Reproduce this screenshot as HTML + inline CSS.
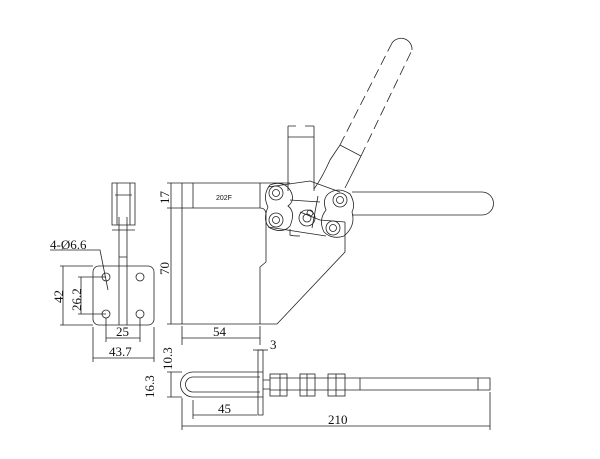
<!DOCTYPE html>
<html><head><meta charset="utf-8"><style>
html,body{margin:0;padding:0;background:#fff;width:600px;height:459px;overflow:hidden}
svg text{font-family:"Liberation Serif",serif;font-size:13px;fill:#111}
</style></head><body>
<svg width="600" height="459" viewBox="0 0 600 459" fill="none" stroke="#222" stroke-width="0.8">
<!-- MAIN VIEW -->
<path d="M182 183 H290 M182 183 V324 H277 L345 252 V222 M260 324 V267 L266 262 V215 Q266 208 260 208 H182 M193 183 V208 M260 183 V208"/>
<text x="216" y="200" stroke="none" style="font-family:'Liberation Sans',sans-serif;font-size:7px">202F</text>
<path d="M288 126 V191 M314 126 V191 M288 137 H314 M288 126 H296 M305 126 H314"/>
<path d="M268 187 L310 181 L340 192 M268 227 L300 232 L326 236 M290 200 L320 202 M300 212 L320 220 L345 222 M290 229 V235 Q292 236 300 236 M318 196 L312 228"/>
<path d="M270 185 Q283 180 290 190 Q296 200 288 206 Q296 212 290 226 Q283 234 270 228 Q262 221 268 207 Q262 195 270 185 Z"/>
<path d="M328 194 Q338 186 350 194 Q356 204 352 212 Q356 226 344 236 Q332 240 324 232 Q318 220 326 210 Q322 200 328 194 Z"/>
<g>
<circle cx="276" cy="193" r="7"/><circle cx="276" cy="193" r="3.5"/>
<circle cx="276" cy="220" r="7"/><circle cx="276" cy="220" r="3.5"/>
<circle cx="307" cy="218" r="8"/><circle cx="307" cy="218" r="4"/><circle cx="310" cy="213" r="3"/>
<circle cx="340" cy="200" r="7"/><circle cx="340" cy="200" r="3.5"/>
<circle cx="333" cy="228" r="7"/><circle cx="333" cy="228" r="3.5"/>
</g>
<path d="M352 192 H482 A11.5 11.5 0 0 1 482 215 H352"/>
<path d="M314 189 Q322 178 330 160 L340 145 L361 156 L345 188"/>
<path d="M340 145 L392 43" stroke-dasharray="10,5"/>
<path d="M361 156 L412 50" stroke-dasharray="10,5"/>
<path d="M392 43 A11 11 0 0 1 412 50"/>
<path d="M171 183 V324 M167 183 H182 M167 208 H182 M167 324 H182"/>
<text x="0" y="0" stroke="none" transform="translate(169,204) rotate(-90)">17</text>
<text x="0" y="0" stroke="none" transform="translate(169,275) rotate(-90)">70</text>
<path d="M182 326 V345 M260 326 V345 M182 338 H260"/>
<text x="213" y="336" stroke="none">54</text>
<!-- LEFT VIEW -->
<rect x="93" y="266" width="61" height="59" rx="6"/>
<circle cx="106" cy="277" r="4"/><circle cx="140" cy="277" r="4"/>
<circle cx="106" cy="314" r="4"/><circle cx="140" cy="314" r="4"/>
<path d="M119 217 V325 M127 217 V325 M119 257 H127"/>
<path d="M112 183 H135 V225 H112 Z M117 183 V225 M130 183 V225 M115 195 H132 M112 230 H135"/>
<path d="M50 250 H100 L108 290"/>
<text x="50" y="249" stroke="none">4-Ø6.6</text>
<path d="M63 266 V325 M60 266 H93 M60 325 H93"/>
<text x="0" y="0" stroke="none" transform="translate(63,303) rotate(-90)">42</text>
<path d="M81 277 V314 M78 277 H106 M78 314 H106"/>
<text x="0" y="0" stroke="none" transform="translate(81,311) rotate(-90)">26.2</text>
<path d="M106 318 V342 M140 318 V342 M106 338 H140"/>
<text x="116" y="336" stroke="none">25</text>
<path d="M93 327 V362 M154 327 V362 M93 358 H154"/>
<text x="109" y="356" stroke="none">43.7</text>
<!-- BOTTOM VIEW -->
<path d="M258 350 V415 H263 V350 Z"/>
<path d="M263 372 H193 A12.5 12.5 0 0 0 193 397 H263 M260 377 H193 A7.5 7.5 0 0 0 193 392 H260"/>
<path d="M263 380 H270 M263 389 H270"/>
<rect x="270" y="374" width="17" height="22"/><rect x="300" y="374" width="15" height="22"/><rect x="328" y="374" width="17" height="22"/>
<path d="M270 378 H345 M270 390 H345 M280 374 V396 M307 374 V396 M336 374 V396"/>
<path d="M345 378 H490 V390 H345 M360 378 V390 M478 378 V390"/>
<path d="M171 372 V397 M167 372 H182 M167 397 H182"/>
<text x="0" y="0" stroke="none" transform="translate(172,370) rotate(-90)">10.3</text>
<text x="0" y="0" stroke="none" transform="translate(154,398) rotate(-90)">16.3</text>
<path d="M253 350 H268"/>
<text x="270" y="349" stroke="none">3</text>
<path d="M193 400 V419 M193 415 H257"/>
<text x="218" y="413" stroke="none">45</text>
<path d="M182 398 V430 M490 392 V430 M182 426 H490"/>
<text x="328" y="424" stroke="none">210</text>
</svg>
</body></html>
